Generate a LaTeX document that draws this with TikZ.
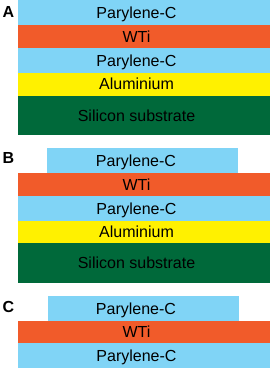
\documentclass[tikz,border=0pt]{standalone}
\usepackage{fontspec}
\setmainfont{Liberation Sans}
\usetikzlibrary{positioning}

\definecolor{parylene}{HTML}{80D4F6}
\definecolor{wti}{HTML}{F15B2A}
\definecolor{alu}{HTML}{FFF100}
\definecolor{silicon}{HTML}{00693A}

\begin{document}
\begin{tikzpicture}[x=1pt, y=-1pt,
    txt/.style={inner sep=0pt, text height=11.5pt, text depth=0pt,
      font=\fontsize{16}{19}\selectfont},
    panel/.style={inner sep=0pt, font=\fontsize{16}{19}\selectfont\bfseries}]
    \useasboundingbox (0,0) rectangle (270,370);
    % panel A
    \foreach \ytop/\ybot/\mat/\name in {0/25/parylene/Parylene-C, 25/48/wti/WTi,
        48/72.5/parylene/Parylene-C, 72.5/95.5/alu/Aluminium,
        95.5/135/silicon/Silicon substrate}
      {\fill[\mat] (18,\ytop) rectangle (270,\ybot);
       \node[txt] at (136.5,{(\ytop+\ybot)/2}) {\name};}
    \node[panel] (la) at (8.5,12) {A};
    % panel B
    \fill[parylene] (47,148) rectangle (238,173);
    \node[txt] (b1) at (136,160.5) {Parylene-C};
    \foreach \ytop/\ybot/\mat/\name in {173/196/wti/WTi,
        196/221/parylene/Parylene-C, 221/243/alu/Aluminium,
        243/283/silicon/Silicon substrate}
      {\fill[\mat] (18,\ytop) rectangle (270,\ybot);
       \node[txt] at (136.5,{(\ytop+\ybot)/2}) {\name};}
    \node[panel] (lb) at (8.5,158) {B};
    % panel C
    \fill[parylene] (48,296) rectangle (239,321);
    \node[txt] (c1) at (136,308.5) {Parylene-C};
    \foreach \ytop/\ybot/\mat/\name in {321/343/wti/WTi,
        343/368/parylene/Parylene-C}
      {\fill[\mat] (18,\ytop) rectangle (270,\ybot);
       \node[txt] at (136.5,{(\ytop+\ybot)/2}) {\name};}
    \node[panel] (lc) at (8.5,306.5) {C};
\end{tikzpicture}
\end{document}
